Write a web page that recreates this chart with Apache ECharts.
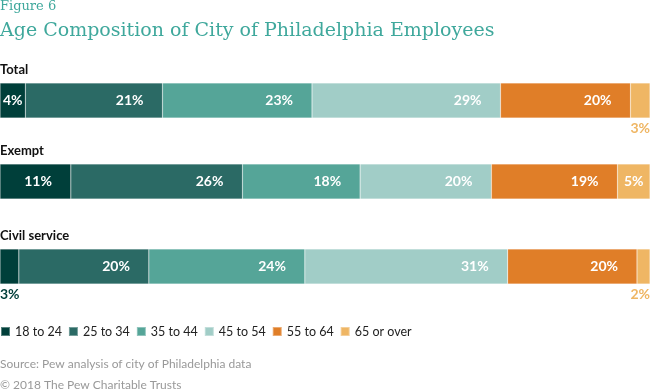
<!DOCTYPE html>
<html><head><meta charset="utf-8">
<script src="https://cdn.jsdelivr.net/npm/echarts@6/dist/echarts.min.js"></script>
<style>html,body{margin:0;padding:0;background:#fff}#c{width:650px;height:390px}</style>
</head><body><div id="c"></div>
<script>
const categories = ['Total', 'Exempt', 'Civil service'];
const ageGroups = ['18 to 24', '25 to 34', '35 to 44', '45 to 54', '55 to 64', '65 or over'];
const totalValues = [3.9, 21.1, 23.0, 29.0, 20.0, 3.0];
const exemptValues = [10.9, 26.4, 18.1, 20.2, 19.4, 5.0];
const civilValues = [2.9, 20.0, 24.0, 31.2, 19.9, 2.0];
const allValues = [totalValues, exemptValues, civilValues];

const colors = ['#003f3a', '#2b6a65', '#55a598', '#a1cdc7', '#e07e28', '#efb664'];
const barTops = [83, 164, 249];
const barH = 35;
const labelFont = 'Lato, "Open Sans", sans-serif';

function labelFor(v, i, n, color) {
  const base = { show: true, formatter: Math.round(v) + '%', fontFamily: labelFont, fontWeight: 'bold', fontSize: 14 };
  if (v < 3.5) {
    const first = i === 0, last = i === n - 1;
    return Object.assign(base, {
      position: [first ? 0 : (last ? '100%' : '50%'), '100%'],
      align: first ? 'left' : (last ? 'right' : 'center'),
      verticalAlign: 'top', offset: [0, 3], color: color
    });
  }
  if (v < 6) return Object.assign(base, { position: 'inside', color: '#fff' });
  return Object.assign(base, { position: 'insideRight', distance: 19, color: '#fff' });
}

const grids = [], xAxes = [], yAxes = [], series = [];
categories.forEach((cat, g) => {
  grids.push({ left: 0, right: 0, top: barTops[g], height: barH, containLabel: false, outerBoundsMode: 'none' });
  xAxes.push({ type: 'value', gridIndex: g, min: 0, max: 100, show: false });
  yAxes.push({
    type: 'category', gridIndex: g, data: [cat],
    axisLine: { show: false }, axisTick: { show: false }, axisLabel: { show: false },
    name: cat, nameLocation: 'end', nameGap: 7,
    nameTextStyle: { align: 'left', verticalAlign: 'bottom', fontFamily: labelFont, fontWeight: 'bold', fontSize: 13, color: '#111' }
  });
  const vals = allValues[g];
  ageGroups.forEach((grp, k) => {
    series.push({
      name: grp, type: 'bar', xAxisIndex: g, yAxisIndex: g, stack: 's' + g,
      barWidth: barH, silent: true,
      itemStyle: { color: colors[k], borderColor: 'rgba(255,255,255,0.35)', borderWidth: 0.5 },
      data: [{ value: vals[k], label: labelFor(vals[k], k, vals.length, colors[k]) }]
    });
  });
});

const chart = echarts.init(document.getElementById('c'), null, { renderer: 'canvas' });
chart.setOption({
  animation: false,
  color: colors,
  title: [
    { text: 'Figure 6', left: 0, top: 0, padding: 0, textStyle: { fontFamily: '"DejaVu Serif", serif', fontWeight: 'normal', fontSize: 13, color: '#3fa89c' } },
    { text: 'Age Composition of City of Philadelphia Employees', left: 0, top: 22, padding: 0, textStyle: { fontFamily: '"DejaVu Serif", serif', fontWeight: 'normal', fontSize: 19, color: '#3fa89c' } }
  ],
  grid: grids, xAxis: xAxes, yAxis: yAxes, series: series,
  legend: {
    left: 0, top: 325, padding: 0, icon: 'rect', itemWidth: 9, itemHeight: 9, itemGap: 6,
    selectedMode: false, data: ageGroups,
    textStyle: { fontFamily: labelFont, fontSize: 12.5, color: '#222' }
  },
  graphic: [
    { type: 'text', left: 0, top: 358, style: { text: 'Source: Pew analysis of city of Philadelphia data', font: '12px Lato, sans-serif', fill: '#999' } },
    { type: 'text', left: 0, top: 379, style: { text: '\u00a9 2018 The Pew Charitable Trusts', font: '12px Lato, sans-serif', fill: '#999' } }
  ]
});
</script></body></html>
